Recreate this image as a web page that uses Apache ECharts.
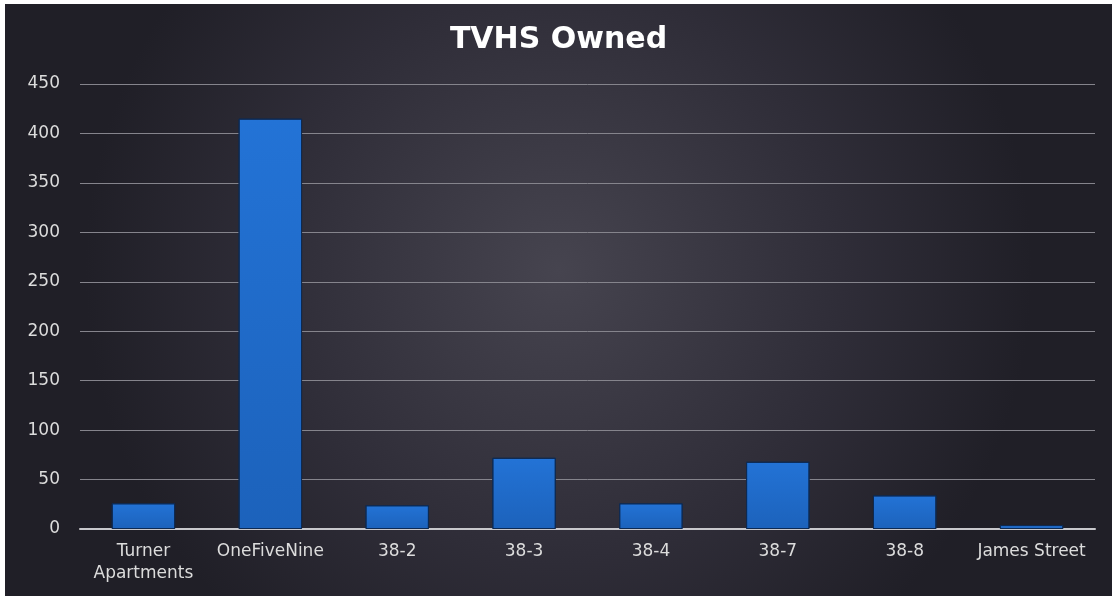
<!DOCTYPE html>
<html><head><meta charset="utf-8">
<script src="https://cdn.jsdelivr.net/npm/echarts@6/dist/echarts.min.js"></script>
<style>html,body{margin:0;padding:0;background:#fff;}#c{position:absolute;left:5px;top:4px;width:1107px;height:592px;}</style>
</head><body><div id="c"></div>
<script>
const categories = ["Turner\nApartments","OneFiveNine","38-2","38-3","38-4","38-7","38-8","James Street"];
const values = [26, 415, 24, 72, 26, 68, 34, 4];
const yMin = 0, yMax = 450, yStep = 50;

const chart = echarts.init(document.getElementById('c'));
chart.setOption({
  backgroundColor: {type:'radial', x:0.5, y:0.45, r:0.8,
    colorStops:[{offset:0,color:'#46444f'},{offset:0.6,color:'#2f2d38'},{offset:1,color:'#201f27'}]},
  title: {text:'TVHS Owned', left:'center', top:16,
    textStyle:{color:'#ffffff', fontSize:30, fontWeight:'bold', fontFamily:'DejaVu Sans'}},
  grid: {left:75, right:17, top:80, bottom:67},
  xAxis: {type:'category', data:categories,
    axisLine:{lineStyle:{color:'#c8c8cc', width:2}},
    axisTick:{show:false},
    axisLabel:{color:'#dcdcdc', fontSize:17, fontFamily:'DejaVu Sans', margin:12, lineHeight:22, interval:0}},
  yAxis: {type:'value', min:yMin, max:yMax, interval:yStep,
    axisLine:{show:false}, axisTick:{show:false},
    axisLabel:{color:'#dcdcdc', fontSize:17, fontFamily:'DejaVu Sans', margin:20},
    splitLine:{lineStyle:{color:'#85848c', width:1}}},
  series: [{type:'bar', data:values, barWidth:'50%',
    itemStyle:{color:{type:'linear',x:0,y:0,x2:0,y2:1,colorStops:[{offset:0,color:'#2373d6'},{offset:1,color:'#1c62bb'}]},
      borderColor:'#0e2a52', borderWidth:1}}]
});
</script></body></html>
